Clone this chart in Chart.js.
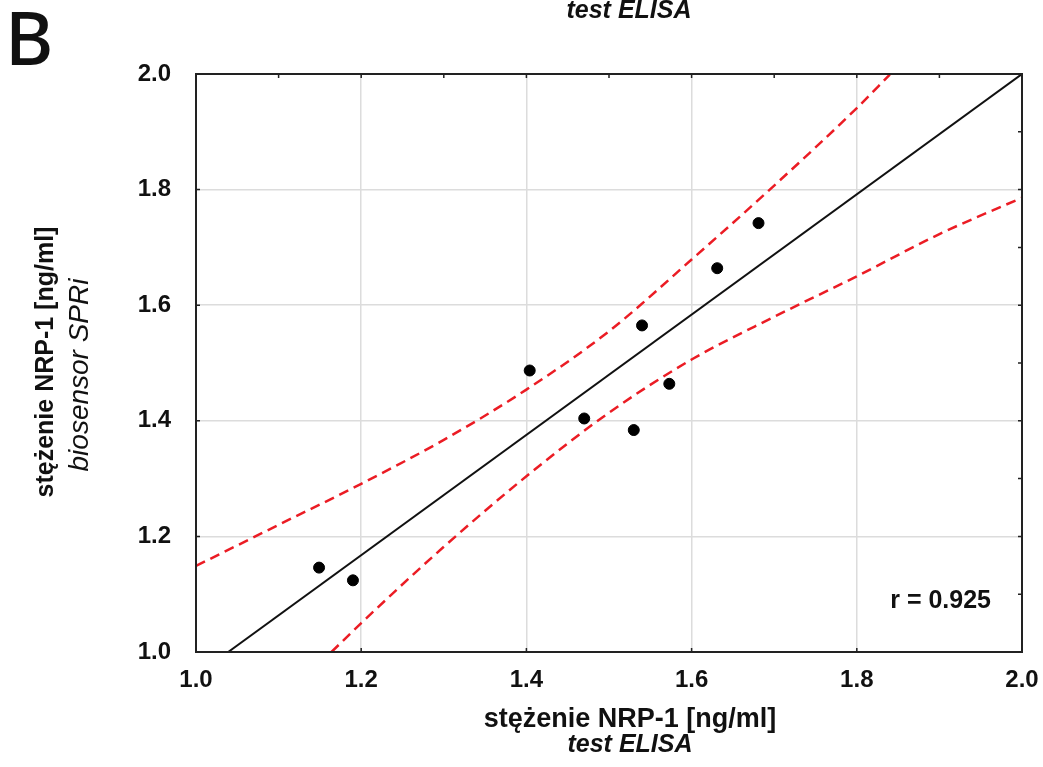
<!DOCTYPE html>
<html>
<head>
<meta charset="utf-8">
<script src="https://cdn.jsdelivr.net/npm/chart.js@4/dist/chart.umd.min.js"></script>
<style>
    html, body { margin: 0; padding: 0; background: #fff; }
    #wrap { position: relative; width: 1043px; height: 767px; }
</style>
</head>
<body>
<div id="wrap"><canvas id="chartKorelacja"></canvas></div>
<script>
// dane
const elisaValues = [1.149, 1.190, 1.404, 1.470, 1.530, 1.540, 1.573, 1.631, 1.681];
const spriValues = [1.146, 1.124, 1.487, 1.404, 1.384, 1.565, 1.464, 1.664, 1.742];

// prosta regresji
const fitX = [1.039, 2.0];
const fitY = [1.0, 2.0];

// przedzial ufnosci (gorny / dolny)
const upperX = [1.0, 1.1, 1.2, 1.3, 1.4, 1.5, 1.6, 1.7, 1.8, 1.84];
const upperY = [1.149, 1.220, 1.291, 1.367, 1.454, 1.555, 1.679, 1.807, 1.941, 1.999];
const lowerX = [1.164, 1.2, 1.3, 1.4, 1.5, 1.6, 1.7, 1.8, 1.9, 2.0];
const lowerY = [1.0, 1.050, 1.182, 1.304, 1.414, 1.506, 1.580, 1.650, 1.723, 1.786];

const axisTicks = [1.0, 1.2, 1.4, 1.6, 1.8, 2.0];
const minorTicks = [1.0, 1.1, 1.2, 1.3, 1.4, 1.5, 1.6, 1.7, 1.8, 1.9, 2.0];

const toPoints = (xs, ys) => xs.map((x, i) => ({ x: x, y: ys[i] }));

const FONT = "'Liberation Sans', Arial, sans-serif";
const RED = "rgb(235, 28, 36)";

// ramka, kreski podzialki i napisy
const ramka = {
    id: 'ramka',
    afterDraw(chart) {
        const { ctx, chartArea: a, scales } = chart;
        const sx = scales.x, sy = scales.y;
        ctx.save();
        ctx.strokeStyle = '#222';
        ctx.lineWidth = 2;
        ctx.strokeRect(a.left, a.top, a.right - a.left, a.bottom - a.top);

        ctx.lineWidth = 1.5;
        ctx.beginPath();
        minorTicks.forEach(v => {
            const px = sx.getPixelForValue(v);
            ctx.moveTo(px, a.top); ctx.lineTo(px, a.top + 4);
            const py = sy.getPixelForValue(v);
            ctx.moveTo(a.right, py); ctx.lineTo(a.right - 4, py);
        });
        axisTicks.forEach(v => {
            const px = sx.getPixelForValue(v);
            ctx.moveTo(px, a.bottom); ctx.lineTo(px, a.bottom - 4);
            const py = sy.getPixelForValue(v);
            ctx.moveTo(a.left, py); ctx.lineTo(a.left + 4, py);
        });
        ctx.stroke();

        ctx.fillStyle = '#111';
        ctx.textAlign = 'right';
        ctx.textBaseline = 'alphabetic';
        ctx.font = "bold 25px " + FONT;
        ctx.fillText('r = 0.925', 991, 608);

        // os X
        ctx.textAlign = 'center';
        ctx.font = "bold 27px " + FONT;
        ctx.fillText('stężenie NRP-1 [ng/ml]', 630, 727);
        ctx.font = "italic bold 25px " + FONT;
        ctx.fillText('test ELISA', 630, 752);

        // napis z panelu powyzej
        ctx.fillText('test ELISA', 629, 18);

        // litera panelu
        ctx.textAlign = 'left';
        ctx.font = "500 74px 'Noto Sans', 'Open Sans', sans-serif";
        ctx.fillText('B', 5, 65);

        // os Y
        ctx.save();
        ctx.translate(53, 362);
        ctx.rotate(-Math.PI / 2);
        ctx.textAlign = 'center';
        ctx.font = "bold 25px " + FONT;
        ctx.fillText('stężenie NRP-1 [ng/ml]', 0, 0);
        ctx.restore();

        ctx.save();
        ctx.translate(88, 375);
        ctx.rotate(-Math.PI / 2);
        ctx.textAlign = 'center';
        ctx.font = "italic 28px " + FONT;
        ctx.fillText('biosensor SPRi', 0, 0);
        ctx.restore();

        ctx.restore();
    }
};

document.addEventListener("DOMContentLoaded", () => {
    const ctx = document.getElementById('chartKorelacja');
    if (!ctx) return;

    new Chart(ctx, {
        type: 'scatter',
        data: {
            datasets: [
                {
                    label: 'pomiary',
                    data: toPoints(elisaValues, spriValues),
                    backgroundColor: '#000',
                    borderColor: '#000',
                    pointRadius: 5.5,
                    order: 0
                },
                {
                    label: 'regresja',
                    data: toPoints(fitX, fitY),
                    showLine: true,
                    borderColor: '#111',
                    borderWidth: 2,
                    pointRadius: 0,
                    order: 1
                },
                {
                    label: 'gorny',
                    data: toPoints(upperX, upperY),
                    showLine: true,
                    borderColor: RED,
                    borderWidth: 2.5,
                    borderDash: [10, 6],
                    cubicInterpolationMode: 'monotone',
                    pointRadius: 0,
                    order: 2
                },
                {
                    label: 'dolny',
                    data: toPoints(lowerX, lowerY),
                    showLine: true,
                    borderColor: RED,
                    borderWidth: 2.5,
                    borderDash: [10, 6],
                    cubicInterpolationMode: 'monotone',
                    pointRadius: 0,
                    order: 2
                }
            ]
        },
        options: {
            responsive: true,
            maintainAspectRatio: false,
            animation: false,
            layout: { padding: { top: 74, right: 21, left: 0, bottom: 0 } },
            plugins: {
                legend: { display: false },
                tooltip: { enabled: false }
            },
            scales: {
                x: {
                    type: 'linear',
                    min: 1.0,
                    max: 2.0,
                    afterFit: s => { s.height = 115; s.paddingLeft = 0; s.paddingRight = 0; },
                    afterBuildTicks: s => { s.ticks = axisTicks.map(v => ({ value: v })); },
                    border: { display: false },
                    grid: { color: '#dcdcdc', lineWidth: 1.5, drawTicks: false },
                    ticks: {
                        padding: 14,
                        color: '#111',
                        font: { family: FONT, size: 24, weight: 'bold' },
                        callback: v => Number(v).toFixed(1)
                    }
                },
                y: {
                    type: 'linear',
                    min: 1.0,
                    max: 2.0,
                    afterFit: s => { s.width = 196; s.paddingTop = 0; s.paddingBottom = 0; },
                    afterBuildTicks: s => { s.ticks = axisTicks.map(v => ({ value: v })); },
                    border: { display: false },
                    grid: { color: '#dcdcdc', lineWidth: 1.5, drawTicks: false },
                    ticks: {
                        padding: 25,
                        color: '#111',
                        font: { family: FONT, size: 24, weight: 'bold' },
                        callback: v => Number(v).toFixed(1)
                    }
                }
            }
        },
        plugins: [ramka]
    });
});
</script>
</body>
</html>
